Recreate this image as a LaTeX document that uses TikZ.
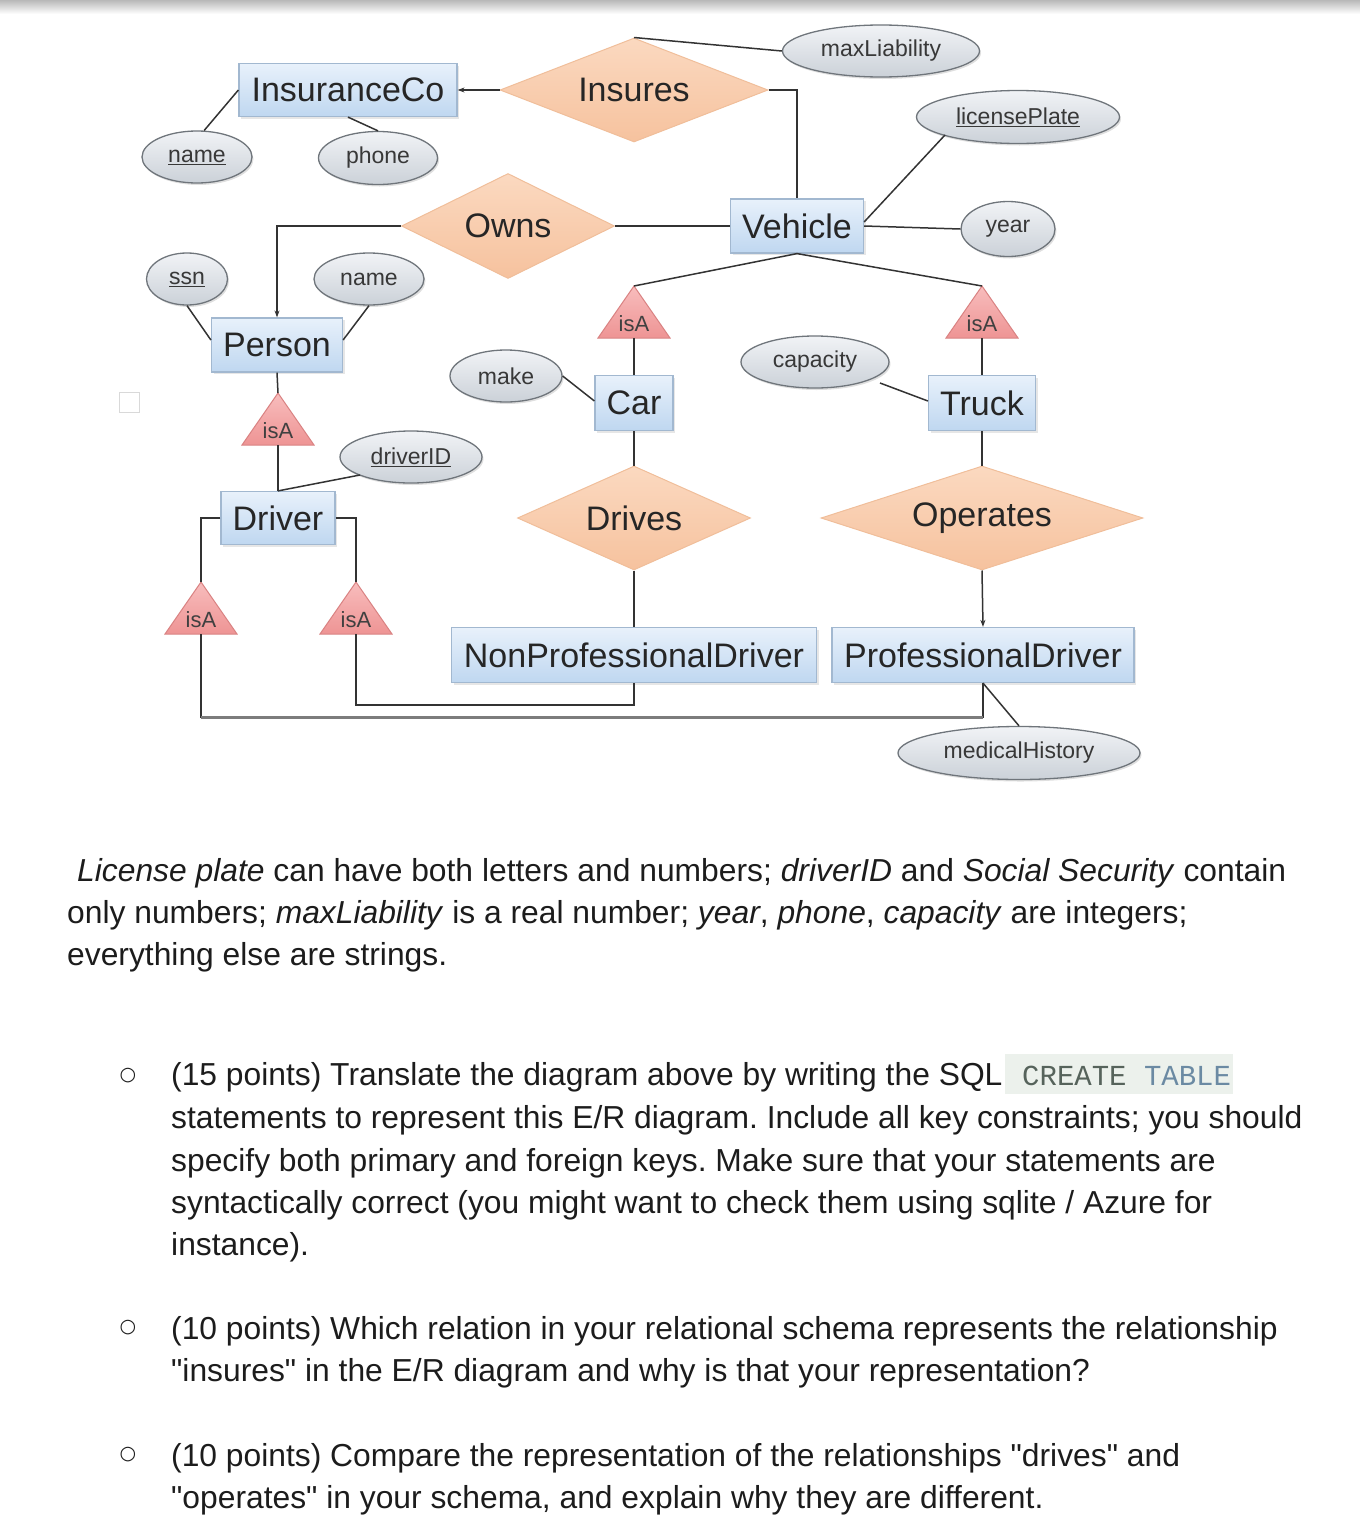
\documentclass[tikz,border=0pt]{standalone}
\usepackage{fontspec}
\setmainfont{Liberation Sans}
\newfontfamily\dejavu{DejaVu Sans}
\newfontfamily\codefont{Liberation Mono}
\usetikzlibrary{shapes.geometric,arrows.meta,shadows,calc}
\definecolor{enttop}{HTML}{E8F1FB}
\definecolor{entbot}{HTML}{BFD7F0}
\definecolor{entborder}{HTML}{A2B8D0}
\definecolor{reltop}{HTML}{FBD9C0}
\definecolor{relbot}{HTML}{F6C29E}
\definecolor{relborder}{HTML}{F0BE9A}
\definecolor{attrtop}{HTML}{F1F3F6}
\definecolor{attrbot}{HTML}{CBD1D8}
\definecolor{attrborder}{HTML}{6F757B}
\definecolor{isatop}{HTML}{F8BDBD}
\definecolor{isabot}{HTML}{EE9494}
\definecolor{isaborder}{HTML}{D98282}
\definecolor{lineclr}{HTML}{333333}
\definecolor{busclr}{HTML}{7C7C7C}
\definecolor{codebg}{HTML}{ECF1EC}
\definecolor{codeA}{HTML}{56635B}
\definecolor{codeB}{HTML}{6B8AA3}
\definecolor{bodytext}{HTML}{1C1C1C}
\frenchspacing
\begin{document}
\begin{tikzpicture}[x=1pt,y=-1pt,
  entity/.style={rectangle, draw=entborder, line width=1.2pt, top color=enttop, bottom color=entbot,
    inner sep=0pt, font=\fontsize{34}{40}\selectfont, text=black!85,
    drop shadow={shadow xshift=2pt, shadow yshift=-2pt, opacity=0.2}},
  rel/.style={diamond, draw=relborder, line width=1pt, top color=reltop, bottom color=relbot,
    inner sep=0pt, font=\fontsize{34}{40}\selectfont, text=black!85},
  attr/.style={ellipse, draw=attrborder, line width=1.3pt, top color=attrtop, bottom color=attrbot,
    inner sep=0pt, minimum height=52pt, font=\fontsize{23}{28}\selectfont, text=black!78,
    drop shadow={shadow xshift=1.5pt, shadow yshift=-2pt, opacity=0.25}},
  isashape/.style={draw=isaborder, line width=1pt, top color=isatop, bottom color=isabot},
  isatext/.style={font=\fontsize{22}{26}\selectfont, text=black!75, inner sep=0pt},
  conn/.style={draw=lineclr, line width=1.5pt},
  arr/.style={conn, -{Stealth[length=7pt,width=5pt]}},
  busline/.style={draw=busclr, line width=3pt},
  body/.style={font=\fontsize{31.8}{38}\selectfont, text=bodytext, inner sep=0pt, anchor=base west},
  bullet/.style={font=\dejavu\fontsize{19}{22}\selectfont, text=bodytext, inner sep=0pt},
]
\useasboundingbox (0,0) rectangle (1360,1526);
% top shade band
\shade[top color=black!28, bottom color=white] (0,0) rectangle (1360,14);

% ---------- entities ----------
\node[entity, minimum width=218pt, minimum height=53pt] (insco) at (348,90) {InsuranceCo};
\node[entity, minimum width=133pt, minimum height=54pt] (vehicle) at (797,226) {Vehicle};
\node[entity, minimum width=131pt, minimum height=54pt] (person) at (277,345) {Person};
\node[entity, minimum width=114pt, minimum height=53pt] (driver) at (278,518) {Driver};
\node[entity, minimum width=78pt, minimum height=55pt] (car) at (634,403) {Car};
\node[entity, minimum width=107pt, minimum height=55pt] (truck) at (982,403) {Truck};
\node[entity, minimum width=365pt, minimum height=55pt] (nonprof) at (634,655) {NonProfessionalDriver};
\node[entity, minimum width=302pt, minimum height=55pt] (profdriver) at (983,655) {ProfessionalDriver};

% ---------- relationships ----------
\node[rel, aspect=2.58, minimum width=268pt, minimum height=104pt] (insures) at (634,90) {Insures};
\node[rel, aspect=2.03, minimum width=213pt, minimum height=105pt] (owns) at (508,226) {Owns};
\node[rel, aspect=2.24, minimum width=233pt, minimum height=104pt] (drives) at (634,518) {Drives};
\node[rel, aspect=3.1, minimum width=322pt, minimum height=104pt] (operates) at (982,518) {Operates};

% ---------- attributes ----------
\node[attr, minimum width=197pt] (maxl) at (881,51) {maxLiability};
\node[attr, minimum width=203pt, minimum height=53pt] (lp) at (1018,117) {\underline{licensePlate}};
\node[attr, minimum width=110pt] (iname) at (197,157) {\underline{name}};
\node[attr, minimum width=119pt, minimum height=53pt] (phone) at (378,158) {phone};
\node[attr, minimum width=94pt, minimum height=55pt] (year) at (1008,229) {year};
\node[attr, minimum width=81pt] (ssn) at (187,279) {\underline{ssn}};
\node[attr, minimum width=110pt] (pname) at (369,279) {name};
\node[attr, minimum width=112pt] (make) at (506,376) {make};
\node[attr, minimum width=148pt] (capacity) at (815,362) {capacity};
\node[attr, minimum width=142pt] (driverid) at (411,457) {\underline{driverID}};
\node[attr, minimum width=242pt, minimum height=53pt] (medhist) at (1019,753) {medicalHistory};

% ---------- isA triangles ----------
\newcommand{\isatri}[3]{%
  \path[isashape] (#2,#3) coordinate (#1-top) -- ++(36,52) -- ++(-72,0) -- cycle;
  \coordinate (#1-bot) at (#2,#3+52);
  \node[isatext] (#1) at (#2,#3+38) {isA};}
\isatri{isap}{278}{393}
\isatri{isal}{201}{582}
\isatri{isar}{356}{582}
\isatri{isac}{634}{286}
\isatri{isat}{982}{286}

% small empty square
\draw[draw=black!15, line width=1pt] (119,392) rectangle (139,412);

% ---------- connectors ----------
\coordinate (busL) at (0,717);
\coordinate (busR) at (0,705);
\draw[arr] (insures.west) -- (insco.east);
\draw[conn] (insures.east) -| (vehicle.north);
\draw[conn] (insures.north) -- (maxl.west);
\draw[conn] (iname.75) -- (insco.west);
\draw[conn] (insco.south) -- (phone.north);
\draw[arr] (owns.west) -| (person.north);
\draw[conn] (owns.east) -- (vehicle.west);
\draw[conn] (vehicle.east) -- (year.west);
\draw[conn] ([yshift=4pt]vehicle.east) -- ([xshift=-73pt,yshift=-18pt]lp.center);
\draw[conn] (vehicle.south) -- (isac-top);
\draw[conn] (vehicle.south) -- (isat-top);
\draw[conn] (ssn.south) -- ([yshift=5pt]person.west);
\draw[conn] (pname.south) -- ([yshift=5pt]person.east);
\draw[conn] (person.south) -- (isap-top);
\draw[conn] (isap-bot) -- (driver.north);
\draw[conn] ([xshift=-51pt,yshift=-18pt]driverid.center) -- (driver.north);
\draw[conn] (driver.west) -| (isal-top);
\draw[conn] (driver.east) -| (isar-top);
\draw[conn] (isac-bot) -- (car.north);
\draw[conn] (isat-bot) -- (truck.north);
\draw[conn] (make.east) -- ([yshift=2pt]car.west);
\draw[conn] ([xshift=65pt,yshift=-21pt]capacity.center) -- ([yshift=2pt]truck.west);
\draw[conn] (car.south) -- (drives.north);
\draw[conn] (truck.south) -- (operates.north);
\draw[conn] (drives.south) -- (nonprof.north);
\draw[arr] (operates.south) -- (profdriver.north);
\draw[conn] (isar-bot) -- (isar-bot |- busR) -| (nonprof.south);
\draw[conn] (isal-bot) -- (isal-bot |- busL) -| (profdriver.south);
\draw[busline] (isal-bot |- busL) -- (profdriver.south |- busL);
\draw[conn] (profdriver.south) -- (medhist.north);

% ---------- text ----------
\node[body] (t1) at (77,881) {\textit{License plate} can have both letters and numbers; \textit{driverID} and \textit{Social Security} contain};
\node[body] (t2) at (67,923) {only numbers; \textit{maxLiability} is a real number; \textit{year}, \textit{phone}, \textit{capacity} are integers;};
\node[body] (t3) at (67,965) {everything else are strings.};

\fill[codebg] (1005,1054) rectangle (1233,1094);
\node[bullet] (b1) at (128,1076) {○};
\node[body] (q1a) at (171,1085) {(15 points) Translate the diagram above by writing the SQL};
\node[anchor=base west, inner sep=0pt, font=\codefont\fontsize{29}{34}\selectfont] (code) at (1022,1085) {\textcolor{codeA}{CREATE} \textcolor{codeB}{TABLE}};
\node[body] (q1b) at (171,1128) {statements to represent this E/R diagram. Include all key constraints; you should};
\node[body] (q1c) at (171,1171) {specify both primary and foreign keys. Make sure that your statements are};
\node[body] (q1d) at (171,1213) {syntactically correct (you might want to check them using sqlite / Azure for};
\node[body] (q1e) at (171,1255) {instance).};

\node[bullet] (b2) at (128,1328) {○};
\node[body] (q2a) at (171,1339) {(10 points) Which relation in your relational schema represents the relationship};
\node[body] (q2b) at (171,1381) {\textquotedbl insures\textquotedbl{} in the E/R diagram and why is that your representation?};

\node[bullet] (b3) at (128,1455) {○};
\node[body] (q3a) at (171,1466) {(10 points) Compare the representation of the relationships \textquotedbl drives\textquotedbl{} and};
\node[body] (q3b) at (171,1508) {\textquotedbl operates\textquotedbl{} in your schema, and explain why they are different.};
\end{tikzpicture}
\end{document}
